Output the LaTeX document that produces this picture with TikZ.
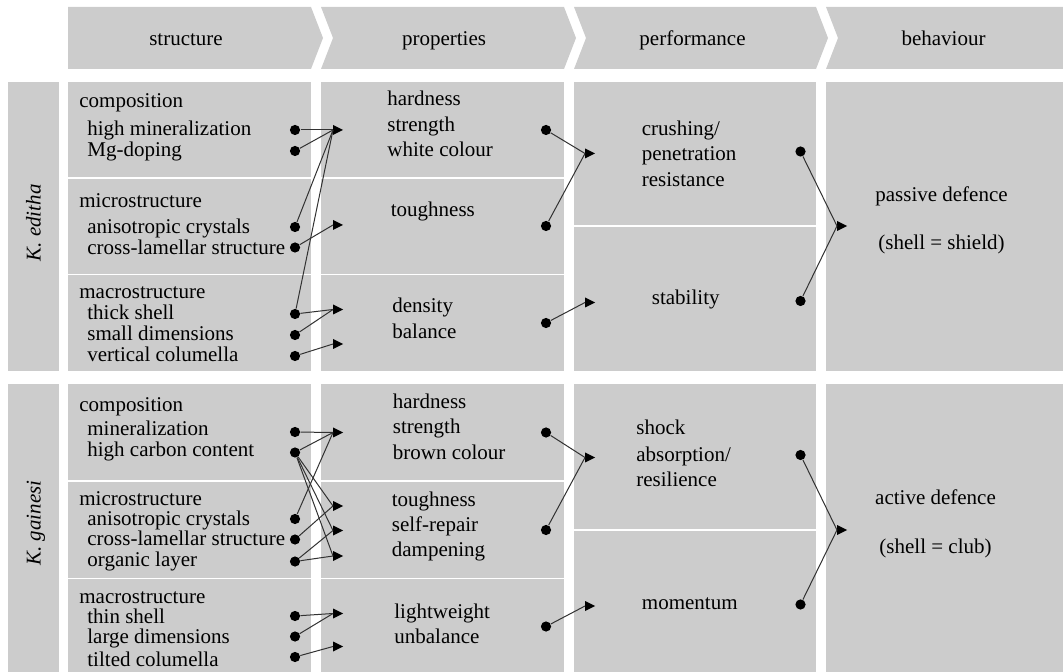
\documentclass[tikz,border=0pt]{standalone}
\usepackage{fontspec}
\setmainfont{Liberation Serif}
\definecolor{cellgray}{RGB}{204,204,204}
\definecolor{linegray}{RGB}{50,50,50}
\newcommand\txtsize{\fontsize{10.5}{12}\selectfont}
\newcommand\arrowat[3]{\coordinate (#1) at (#2,#3);\fill[black] (#1) -- ++(0,5) -- ++(10,-5) -- ++(-10,-5) -- cycle;}
\tikzset{
  cell/.style={fill=cellgray},
  sepline/.style={draw=white, line width=0.8pt},
  txt/.style={anchor=base west, inner sep=0pt, font=\txtsize},
  ctxt/.style={anchor=base, inner sep=0pt, font=\txtsize},
  dotnode/.style={circle, fill=black, inner sep=0pt, minimum size=5.1pt},
  conn/.style={draw=linegray, line width=0.5pt},
  species/.style={anchor=base, inner sep=0pt, rotate=90, font=\txtsize\itshape}
}
\begin{document}
\begin{tikzpicture}[x=0.5pt,y=-0.5pt]
\useasboundingbox (0,0) rectangle (1063,672);
% ---------- header chevrons ----------
\fill[cell] (68,7) -- (311,7) -- (323,38) -- (311,69) -- (68,69) -- cycle;
\fill[cell] (321,7) -- (564,7) -- (576,38) -- (564,69) -- (321,69) -- (333,38) -- cycle;
\fill[cell] (574,7) -- (816,7) -- (828,38) -- (816,69) -- (574,69) -- (586,38) -- cycle;
\fill[cell] (826,7) -- (1063,7) -- (1063,69) -- (826,69) -- (838,38) -- cycle;
\node[ctxt] (hstruct) at (186,45.5) {structure};
\node[ctxt] (hprop) at (444,45.5) {properties};
\node[ctxt] (hperf) at (692.5,45.5) {performance};
\node[ctxt] (hbeh) at (943.5,45.5) {behaviour};
% ---------- body cells ----------
\foreach \ya/\yb in {82/371,384/672}{
  \fill[cell] (8,\ya) rectangle (59,\yb);
  \fill[cell] (68,\ya) rectangle (311,\yb);
  \fill[cell] (321,\ya) rectangle (564,\yb);
  \fill[cell] (574,\ya) rectangle (816,\yb);
  \fill[cell] (826,\ya) rectangle (1063,\yb);
}
\foreach \ys in {178,274.5,481,578.5}{
  \draw[sepline] (68,\ys) -- (311,\ys);
  \draw[sepline] (321,\ys) -- (564,\ys);
}
\draw[sepline] (574,226) -- (816,226);
\draw[sepline] (574,530) -- (816,530);
% ---------- species labels ----------
\node[species] (kedi) at (40.5,223) {K. editha};
\node[species] (kgai) at (40.5,523) {K. gainesi};
% ================= K. editha =================
\node[txt] (eComp) at (79,108) {composition};
\node[txt] (eS1) at (87,135.5) {high mineralization};
\node[txt] (eS2) at (87,157) {Mg-doping};
\node[txt] (eMicro) at (79,207.5) {microstructure};
\node[txt] (eS3) at (87,234) {anisotropic crystals};
\node[txt] (eS4) at (87,255) {cross-lamellar structure};
\node[txt] (eMacro) at (79,298.5) {macrostructure};
\node[txt] (eS5) at (87,320) {thick shell};
\node[txt] (eS6) at (87,340.5) {small dimensions};
\node[txt] (eS7) at (87,361.5) {vertical columella};
\node[dotnode] (eD1) at (295,130) {};
\node[dotnode] (eD2) at (295,151) {};
\node[dotnode] (eD3) at (295,227) {};
\node[dotnode] (eD4) at (295,247.5) {};
\node[dotnode] (eD5) at (295,314) {};
\node[dotnode] (eD6) at (295,335) {};
\node[dotnode] (eD7) at (295,356) {};
\arrowat{eA1}{333}{130}
\arrowat{eA2}{333}{225}
\arrowat{eA3}{333}{309.5}
\arrowat{eA4}{333}{344}
\draw[conn] (eD1) -- (eA1);
\draw[conn] (eD2) -- (eA1);
\draw[conn] (eD3) -- (eA1);
\draw[conn] (eD5) -- (eA1);
\draw[conn] (eD4) -- (eA2);
\draw[conn] (eD5) -- (eA3);
\draw[conn] (eD6) -- (eA3);
\draw[conn] (eD7) -- (eA4);
\node[txt] (eP1) at (387,106) {hardness};
\node[txt] (eP2) at (387,131.5) {strength};
\node[txt] (eP3) at (387,156.5) {white colour};
\node[txt] (eP4) at (390.5,216.5) {toughness};
\node[txt] (eP5) at (392,313) {density};
\node[txt] (eP6) at (392,338.5) {balance};
\node[dotnode] (ePD1) at (546,130) {};
\node[dotnode] (ePD2) at (546,226) {};
\node[dotnode] (ePD3) at (546,323) {};
\arrowat{eB1}{585}{153.5}
\arrowat{eB2}{585}{302.5}
\draw[conn] (ePD1) -- (eB1);
\draw[conn] (ePD2) -- (eB1);
\draw[conn] (ePD3) -- (eB2);
\node[txt] (eQ1) at (641.5,136) {crushing/};
\node[txt] (eQ2) at (641.5,161) {penetration};
\node[txt] (eQ3) at (641.5,186.5) {resistance};
\node[txt] (eQ4) at (651.5,305) {stability};
\node[dotnode] (eQD1) at (800.5,151.5) {};
\node[dotnode] (eQD2) at (800.5,301) {};
\arrowat{eC1}{837}{226}
\draw[conn] (eQD1) -- (eC1);
\draw[conn] (eQD2) -- (eC1);
\node[ctxt] (eR1) at (941.5,201.5) {passive defence};
\node[ctxt] (eR2) at (941.5,250) {(shell = shield)};
% ================= K. gainesi =================
\node[txt] (gComp) at (79,411.5) {composition};
\node[txt] (gS1) at (87,436) {mineralization};
\node[txt] (gS2) at (87,456.5) {high carbon content};
\node[txt] (gMicro) at (79,505) {microstructure};
\node[txt] (gS3) at (87,525) {anisotropic crystals};
\node[txt] (gS4) at (87,545.5) {cross-lamellar structure};
\node[txt] (gS5) at (87,566.5) {organic layer};
\node[txt] (gMacro) at (79,603.5) {macrostructure};
\node[txt] (gS6) at (87,623.5) {thin shell};
\node[txt] (gS7) at (87,643.5) {large dimensions};
\node[txt] (gS8) at (87,666) {tilted columella};
\node[dotnode] (gD1) at (295,432) {};
\node[dotnode] (gD2) at (295,452.5) {};
\node[dotnode] (gD3) at (295,519) {};
\node[dotnode] (gD4) at (295,539.5) {};
\node[dotnode] (gD5) at (295,561.5) {};
\node[dotnode] (gD6) at (295,616) {};
\node[dotnode] (gD7) at (295,636.5) {};
\node[dotnode] (gD8) at (295,657) {};
\arrowat{gA1}{333}{432.5}
\arrowat{gA2}{333}{506}
\arrowat{gA3}{333}{530.5}
\arrowat{gA4}{333}{556}
\arrowat{gA5}{333}{613.5}
\arrowat{gA6}{333}{646.5}
\draw[conn] (gD1) -- (gA1);
\draw[conn] (gD2) -- (gA1);
\draw[conn] (gD3) -- (gA1);
\draw[conn] (gD2) -- (gA2);
\draw[conn] (gD2) -- (gA3);
\draw[conn] (gD2) -- (gA4);
\draw[conn] (gD4) -- (gA2);
\draw[conn] (gD5) -- (gA3);
\draw[conn] (gD5) -- (gA4);
\draw[conn] (gD6) -- (gA5);
\draw[conn] (gD7) -- (gA5);
\draw[conn] (gD8) -- (gA6);
\node[txt] (gP1) at (392.5,408.5) {hardness};
\node[txt] (gP2) at (392.5,433.5) {strength};
\node[txt] (gP3) at (392.5,459) {brown colour};
\node[txt] (gP4) at (391.5,506.5) {toughness};
\node[txt] (gP5) at (391.5,531.5) {self-repair};
\node[txt] (gP6) at (391.5,556.5) {dampening};
\node[txt] (gP7) at (394,618.5) {lightweight};
\node[txt] (gP8) at (394,643.5) {unbalance};
\node[dotnode] (gPD1) at (546,432.5) {};
\node[dotnode] (gPD2) at (546,530) {};
\node[dotnode] (gPD3) at (546,626.5) {};
\arrowat{gB1}{585}{457.5}
\arrowat{gB2}{585}{606}
\draw[conn] (gPD1) -- (gB1);
\draw[conn] (gPD2) -- (gB1);
\draw[conn] (gPD3) -- (gB2);
\node[txt] (gQ1) at (636,435) {shock};
\node[txt] (gQ2) at (636,461.5) {absorption/};
\node[txt] (gQ3) at (636,486.5) {resilience};
\node[txt] (gQ4) at (641.5,609.5) {momentum};
\node[dotnode] (gQD1) at (800.5,455) {};
\node[dotnode] (gQD2) at (800.5,604.5) {};
\arrowat{gC1}{837}{530}
\draw[conn] (gQD1) -- (gC1);
\draw[conn] (gQD2) -- (gC1);
\node[ctxt] (gR1) at (935.5,504) {active defence};
\node[ctxt] (gR2) at (935.5,553) {(shell = club)};
\end{tikzpicture}
\end{document}
